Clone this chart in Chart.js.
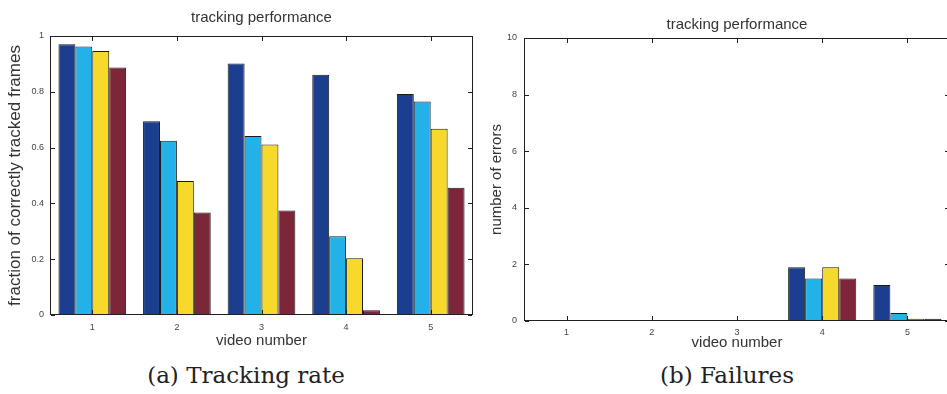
<!DOCTYPE html>
<html>
<head>
<meta charset="utf-8">
<script src="https://cdn.jsdelivr.net/npm/chart.js@4.4.1/dist/chart.umd.min.js"></script>
<style>
html, body { margin: 0; padding: 0; background: #fff; width: 947px; height: 394px; overflow: hidden; }
.box { position: absolute; }
.cap { position: absolute; width: 300px; text-align: center; font-family: "DejaVu Serif", serif; font-size: 23px; color: #222; }
</style>
</head>
<body>
<div class="box" style="left:0;top:0;width:480px;height:350px"><canvas id="rate"></canvas></div>
<div class="box" style="left:480px;top:0;width:470px;height:356px"><canvas id="fail"></canvas></div>
<div class="cap" style="left:96px;top:362px">(a) Tracking rate</div>
<div class="cap" style="left:577px;top:362px">(b) Failures</div>
<script>
// video numbers on the x axis
const videos = ['1', '2', '3', '4', '5'];

// fraction of correctly tracked frames, one array per method
const rateA = [0.970, 0.694, 0.901, 0.861, 0.792];
const rateB = [0.962, 0.625, 0.642, 0.282, 0.765];
const rateC = [0.946, 0.480, 0.611, 0.203, 0.668];
const rateD = [0.887, 0.367, 0.375, 0.017, 0.456];

// number of errors, one array per method
const errA = [0, 0, 0, 1.9, 1.27];
const errB = [0, 0, 0, 1.5, 0.28];
const errC = [0, 0, 0, 1.9, 0.08];
const errD = [0, 0, 0, 1.5, 0.08];

const colors = ['#1b3f8e', '#22b2e8', '#f6d92b', '#7d2639'];
const sans = '"Liberation Sans", Arial, sans-serif';

// box round the plot area, same way as the test that showed up
const boxFrame = {
    id: 'boxFrame',
    afterDraw(chart) {
        const ctx = chart.ctx;
        const a = chart.chartArea;
        const l = Math.round(a.left) + 0.5, r = Math.round(a.right) - 0.5;
        const t = Math.round(a.top) + 0.5, b = Math.round(a.bottom) - 0.5;
        ctx.save();
        ctx.strokeStyle = 'rgb(32,32,32)';
        ctx.lineWidth = 1;
        ctx.strokeRect(l, t, r - l, b - t);
        ctx.restore();
    }
};

// small inward ticks like matlab
const inwardTicks = {
    id: 'inwardTicks',
    afterDraw(chart) {
        const ctx = chart.ctx;
        const a = chart.chartArea;
        const x = chart.scales.x, y = chart.scales.y;
        ctx.save();
        ctx.fillStyle = 'rgb(32,32,32)';
        for (let i = 0; i < x.ticks.length; i++) {
            const px = Math.round(x.getPixelForTick(i));
            ctx.fillRect(px, Math.round(a.bottom) - 5, 1, 4);
            ctx.fillRect(px, Math.round(a.top) + 1, 1, 4);
        }
        for (let i = 0; i < y.ticks.length; i++) {
            const py = Math.round(y.getPixelForTick(i));
            ctx.fillRect(Math.round(a.left) + 1, py, 4, 1);
            ctx.fillRect(Math.round(a.right) - 5, py, 4, 1);
        }
        ctx.restore();
    }
};

function makeDatasets(series) {
    return series.map((data, i) => ({
        data: data,
        backgroundColor: colors[i],
        borderColor: '#1a1a1a',
        borderWidth: 1,
        borderSkipped: false,
        categoryPercentage: 0.8,
        barPercentage: 1
    }));
}

function makeChart(id, series, opts) {
    return new Chart(document.getElementById(id), {
        type: 'bar',
        data: { labels: videos, datasets: makeDatasets(series) },
        options: {
            responsive: true,
            maintainAspectRatio: false,
            animation: false,
            layout: { padding: { left: 0, right: opts.padRight, top: 0, bottom: 0 } },
            plugins: {
                legend: { display: false },
                tooltip: { enabled: false },
                title: {
                    display: true,
                    fullSize: false,
                    text: 'tracking performance',
                    color: '#333',
                    font: { family: sans, size: 15, weight: 'normal' },
                    padding: opts.titlePad
                }
            },
            scales: {
                x: {
                    grid: { display: false, drawTicks: false },
                    border: { display: false },
                    ticks: { color: '#444', font: { family: sans, size: 9 }, padding: opts.xTickPad, maxRotation: 0 },
                    title: {
                        display: true, text: 'video number', color: '#333',
                        font: { family: sans, size: 15 }, padding: { top: 0, bottom: opts.xTitlePad }
                    },
                    afterFit: s => { s.height = 35; }
                },
                y: {
                    min: 0, max: opts.max,
                    grid: { display: false, drawTicks: false },
                    border: { display: false },
                    ticks: {
                        stepSize: opts.step, color: '#444', font: { family: sans, size: 9 }, padding: opts.tickPad,
                        callback: v => String(Number(v.toFixed(2)))
                    },
                    title: {
                        display: true, text: opts.yTitle, color: '#333',
                        font: { family: sans, size: opts.yTitleSize }, padding: { top: opts.yTitlePad, bottom: 0 }
                    },
                    afterFit: s => { s.width = opts.yWidth; }
                }
            }
        },
        plugins: [boxFrame, inwardTicks]
    });
}

makeChart('rate', [rateA, rateB, rateC, rateD], {
    max: 1, step: 0.2, yTitle: 'fraction of correctly tracked frames', yTitleSize: 17,
    yWidth: 50, padRight: 7, tickPad: 6, yTitlePad: 5,
    xTickPad: 7, xTitlePad: 0,
    titlePad: { top: 9, bottom: 9 }
});

makeChart('fail', [errA, errB, errC, errD], {
    max: 10, step: 2, yTitle: 'number of errors', yTitleSize: 15,
    yWidth: 44, padRight: 0, tickPad: 7, yTitlePad: 8,
    xTickPad: 6, xTitlePad: 4,
    titlePad: { top: 16, bottom: 4 }
});
</script>
</body>
</html>
